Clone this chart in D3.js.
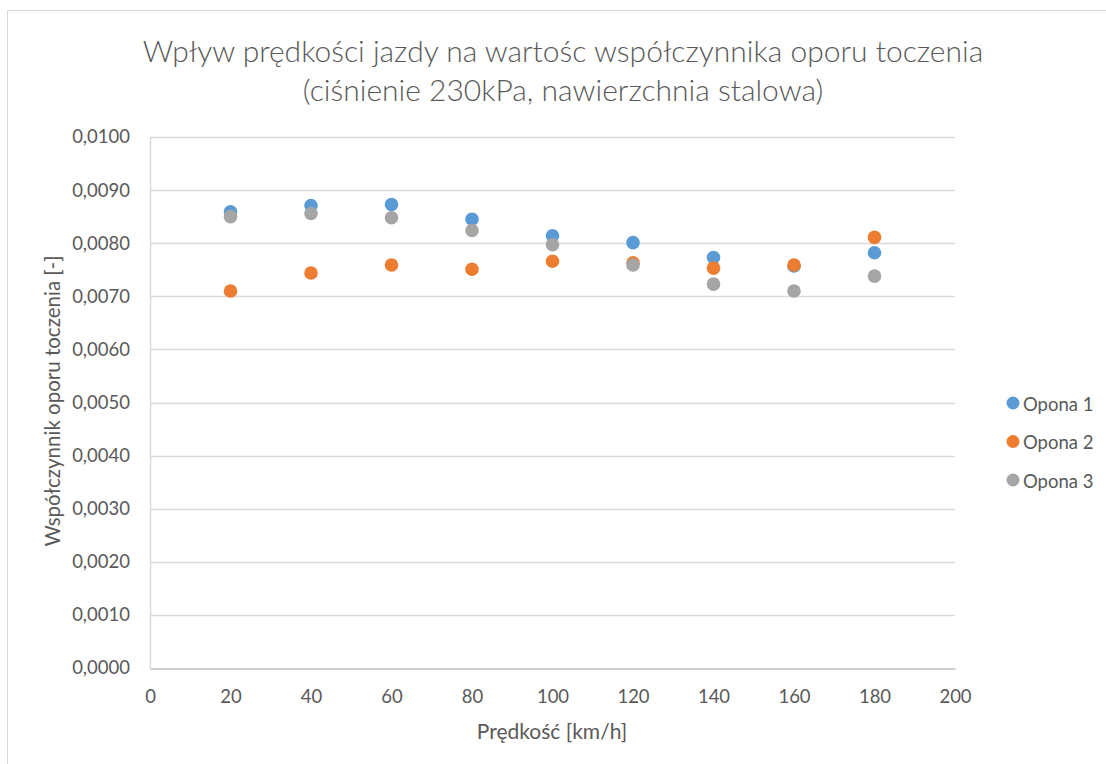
<!DOCTYPE html>
<html><head><meta charset="utf-8">
<script src="https://cdn.jsdelivr.net/npm/d3@7"></script>
<style>body{margin:0;background:#fff;} svg{display:block;}</style>
</head><body>
<script>
const speeds = [20, 40, 60, 80, 100, 120, 140, 160, 180];
const opona1 = [0.00859, 0.00871, 0.00873, 0.00845, 0.00814, 0.00801, 0.00773, 0.00757, 0.00782];
const opona2 = [0.00710, 0.00744, 0.00759, 0.00751, 0.00766, 0.00763, 0.00753, 0.00759, 0.00811];
const opona3 = [0.00850, 0.00856, 0.00848, 0.00824, 0.00797, 0.00759, 0.00723, 0.00710, 0.00738];
const seriesNames = ["Opona 1", "Opona 2", "Opona 3"];
const seriesColors = ["#5b9bd5", "#ed7d31", "#a5a5a5"];
const xTicks = [0, 20, 40, 60, 80, 100, 120, 140, 160, 180, 200];
const yTicks = [0, 0.001, 0.002, 0.003, 0.004, 0.005, 0.006, 0.007, 0.008, 0.009, 0.010];
const titleLines = ["Wpływ prędkości jazdy na wartośc współczynnika oporu toczenia", "(ciśnienie 230kPa, nawierzchnia stalowa)"];
const xTitle = "Prędkość [km/h]";
const yTitle = "Współczynnik oporu toczenia [-]";

const W = 1106, H = 764;
const font = "Lato, 'Open Sans', sans-serif";
const svg = d3.select("body").append("svg").attr("width", W).attr("height", H);
svg.append("rect").attr("width", W).attr("height", H).attr("fill", "#fff");
// chart border
svg.append("rect").attr("x", 7.5).attr("y", 10.5).attr("width", W + 10).attr("height", H + 10)
  .attr("fill", "none").attr("stroke", "#d9d9d9").attr("stroke-width", 1);

const x = d3.scaleLinear().domain([0, 200]).range([150, 955]);
const y = d3.scaleLinear().domain([0, 0.010]).range([668, 137]);

// gridlines
svg.append("g").selectAll("line").data(yTicks.slice(1)).join("line")
  .attr("x1", x(0)).attr("x2", x(200))
  .attr("y1", d => Math.round(y(d)) + 0.5).attr("y2", d => Math.round(y(d)) + 0.5)
  .attr("stroke", "#d9d9d9").attr("stroke-width", 1.5);

// axes
const fmt = d => d3.format(".4f")(d).replace(".", ",");
const yAxis = svg.append("g").attr("transform", `translate(${x(0)},0)`)
  .call(d3.axisLeft(y).tickValues(yTicks).tickFormat(fmt).tickSize(0).tickPadding(20));
yAxis.select(".domain").attr("stroke", "#d9d9d9").attr("stroke-width", 1.5);
yAxis.selectAll("text").attr("font-family", font).attr("font-size", 18.5).attr("fill", "#595959");

const xAxis = svg.append("g").attr("transform", `translate(0,${Math.round(y(0)) + 0.5})`)
  .call(d3.axisBottom(x).tickValues(xTicks).tickFormat(d3.format("d")).tickSize(0).tickPadding(21));
xAxis.select(".domain").attr("stroke", "#bfbfbf").attr("stroke-width", 1.5);
xAxis.selectAll("text").attr("font-family", font).attr("font-size", 18.5).attr("fill", "#595959");

// points
const allSeries = [opona1, opona2, opona3];
allSeries.forEach((vals, si) => {
  svg.append("g").selectAll("circle").data(vals).join("circle")
    .attr("cx", (d, i) => x(speeds[i])).attr("cy", d => y(d)).attr("r", 6.8)
    .attr("fill", seriesColors[si]);
});

// title
svg.append("g").selectAll("text").data(titleLines).join("text")
  .attr("x", 563).attr("y", (d, i) => 62 + i * 39)
  .attr("text-anchor", "middle").attr("font-family", font).attr("font-size", 30)
  .attr("font-weight", 300).attr("fill", "#595959").text(d => d);

// axis titles
svg.append("text").attr("x", 552).attr("y", 739).attr("text-anchor", "middle")
  .attr("font-family", font).attr("font-size", 21).attr("fill", "#595959").text(xTitle);
svg.append("text").attr("transform", "translate(60,401) rotate(-90)").attr("text-anchor", "middle")
  .attr("font-family", font).attr("font-size", 20.5).attr("fill", "#595959").text(yTitle);

// legend
const leg = svg.append("g").selectAll("g").data(seriesNames).join("g")
  .attr("transform", (d, i) => `translate(1013,${403 + i * 38.5})`);
leg.append("circle").attr("r", 6.5).attr("fill", (d, i) => seriesColors[i]);
leg.append("text").attr("x", 10).attr("y", 7.5).attr("font-family", font).attr("font-size", 18.5)
  .attr("fill", "#595959").text(d => d);
</script>
</body></html>
